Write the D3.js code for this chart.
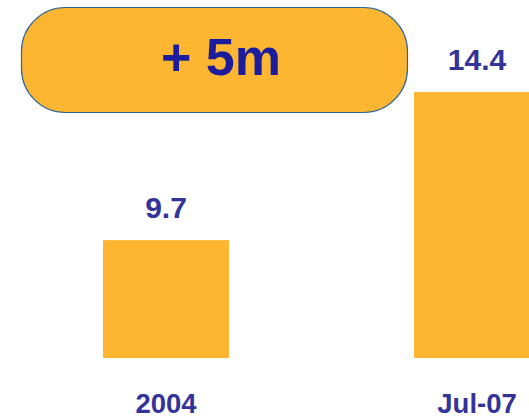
<!DOCTYPE html>
<html>
<head>
<meta charset="utf-8">
<script src="https://cdn.jsdelivr.net/npm/d3@7"></script>
<style>
  html, body { margin: 0; padding: 0; background: #ffffff; }
  svg { display: block; }
</style>
</head>
<body>
<svg id="chart" width="529" height="419"></svg>
<script>
// Subscriber counts (millions) at two dates
const categories = ["2004", "Jul-07"];
const values = [9.7, 14.4];
const valueLabels = ["9.7", "14.4"];
const growthLabel = "+ 5m";

const barColor = "#fdb632";
const labelColor = "#333399";
const growthColor = "#1c1c9c";
const fontFamily = "Liberation Sans, Arial, sans-serif";

const svg = d3.select("#chart");

// Truncated value axis: bars start from a common baseline above zero
const x = d3.scaleBand()
  .domain(categories)
  .range([103, 540])
  .paddingInner(0.595)
  .paddingOuter(0);

const y = d3.scaleLinear()
  .domain([5.96, 14.4])
  .range([358, 92]);

const data = categories.map((c, i) => ({ cat: c, value: values[i], label: valueLabels[i] }));
const center = d => x(d) + 63;

// Bars
svg.selectAll("rect.bar")
  .data(data)
  .join("rect")
  .attr("class", "bar")
  .attr("x", d => x(d.cat))
  .attr("y", d => y(d.value))
  .attr("width", x.bandwidth())
  .attr("height", d => y.range()[0] - y(d.value))
  .attr("fill", barColor);

// Value labels above bars
svg.selectAll("text.value")
  .data(data)
  .join("text")
  .attr("class", "value")
  .attr("x", d => center(d.cat))
  .attr("y", d => y(d.value) - 22)
  .attr("text-anchor", "middle")
  .attr("font-family", fontFamily)
  .attr("font-weight", "bold")
  .attr("font-size", 30)
  .attr("fill", labelColor)
  .text(d => d.label);

// Category labels (axis without line/ticks)
const axis = d3.axisBottom(x).tickSize(0).tickPadding(0);
const axisG = svg.append("g")
  .attr("transform", "translate(0,413)")
  .call(axis);
axisG.select(".domain").remove();
axisG.selectAll(".tick")
  .attr("transform", d => `translate(${center(d)},0)`);
axisG.selectAll("text")
  .attr("dy", null)
  .attr("y", 0)
  .attr("font-family", fontFamily)
  .attr("font-weight", "bold")
  .attr("font-size", 27.5)
  .attr("fill", labelColor);

// Growth callout
const callout = svg.append("g");
callout.append("rect")
  .attr("x", 21.5)
  .attr("y", 7.5)
  .attr("width", 386)
  .attr("height", 105)
  .attr("rx", 44)
  .attr("ry", 44)
  .attr("fill", barColor)
  .attr("stroke", "#2e6599")
  .attr("stroke-width", 1.2);
callout.append("text")
  .attr("x", 221)
  .attr("y", 75)
  .attr("text-anchor", "middle")
  .attr("font-family", fontFamily)
  .attr("font-weight", "bold")
  .attr("font-size", 52)
  .attr("fill", growthColor)
  .text(growthLabel);
</script>
</body>
</html>
